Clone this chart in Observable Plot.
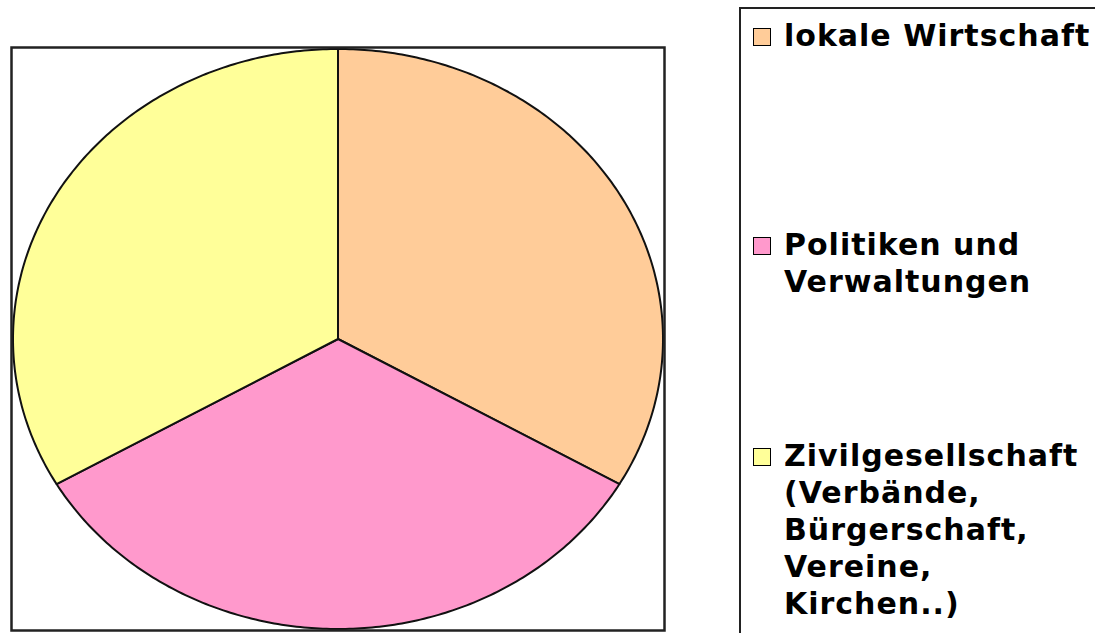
<!DOCTYPE html>
<html>
<head>
<meta charset="utf-8">
<script src="https://cdn.jsdelivr.net/npm/d3@7"></script>
<script src="https://cdn.jsdelivr.net/npm/@observablehq/plot@0.6"></script>
<style>
  html, body { margin: 0; padding: 0; background: #fff; }
  #wrap { position: relative; width: 1095px; height: 633px; overflow: hidden; background: #fff; }
  #chart { position: absolute; left: 0; top: 0; }
  #legend {
    position: absolute; left: 739px; top: 7px; width: 420px; height: 700px;
    border: 2.5px solid #222; box-sizing: border-box; background: #fff;
  }
  .item {
    position: absolute; left: 43px; white-space: pre-line;
    font-family: "DejaVu Sans", sans-serif; font-weight: bold; font-size: 30px;
    line-height: 37px; letter-spacing: 1px; color: #000;
  }
  .swatch {
    position: absolute; left: -31px; top: 11px; width: 18px; height: 18px;
    box-sizing: border-box; border: 1.5px solid #000;
  }
</style>
</head>
<body>
<div id="wrap">
  <div id="chart"></div>
  <div id="legend"></div>
</div>
<script>
// Data
const categories = ["lokale Wirtschaft", "Politiken und Verwaltungen", "Zivilgesellschaft (Verbände, Bürgerschaft, Vereine, Kirchen..)"];
const legendLabels = ["lokale Wirtschaft", "Politiken und\nVerwaltungen", "Zivilgesellschaft\n(Verbände,\nBürgerschaft,\nVereine,\nKirchen..)"];
const shares = [33.3, 33.3, 33.3];
const colors = ["#FFCC99", "#FF99CC", "#FFFF99"];

// Pie geometry from the data via d3.pie (angles clockwise from 12 o'clock)
const arcs = d3.pie().sort(null).value(d => d)(shares);
const pts = [];
arcs.forEach((a, i) => {
  const cat = categories[i];
  pts.push({cat, x: 0, y: 0});
  const n = 180;
  for (let k = 0; k <= n; k++) {
    const t = a.startAngle + (a.endAngle - a.startAngle) * k / n;
    pts.push({cat, x: Math.sin(t), y: Math.cos(t)});
  }
});

const plot = Plot.plot({
  width: 700,
  height: 633,
  marginLeft: 11,
  marginRight: 36,
  marginTop: 47,
  marginBottom: 3,
  x: {domain: [-1.0046, 1.0046], axis: null},
  y: {domain: [-1.005, 1.005], axis: null},
  color: {domain: categories, range: colors},
  style: {background: "transparent"},
  marks: [
    Plot.line(pts, {x: "x", y: "y", z: "cat", fill: "cat", stroke: "#111", strokeWidth: 2, curve: "linear-closed", strokeLinejoin: "round"}),
    Plot.frame({stroke: "#222", strokeWidth: 2.5})
  ]
});
document.getElementById("chart").appendChild(plot);

// Legend
const tops = [8, 217, 428];
const legend = document.getElementById("legend");
categories.forEach((c, i) => {
  const item = document.createElement("div");
  item.className = "item";
  item.style.top = tops[i] + "px";
  item.textContent = legendLabels[i];
  const sw = document.createElement("div");
  sw.className = "swatch";
  sw.style.background = plot.scale("color").apply(c);
  item.appendChild(sw);
  legend.appendChild(item);
});
</script>
</body>
</html>
